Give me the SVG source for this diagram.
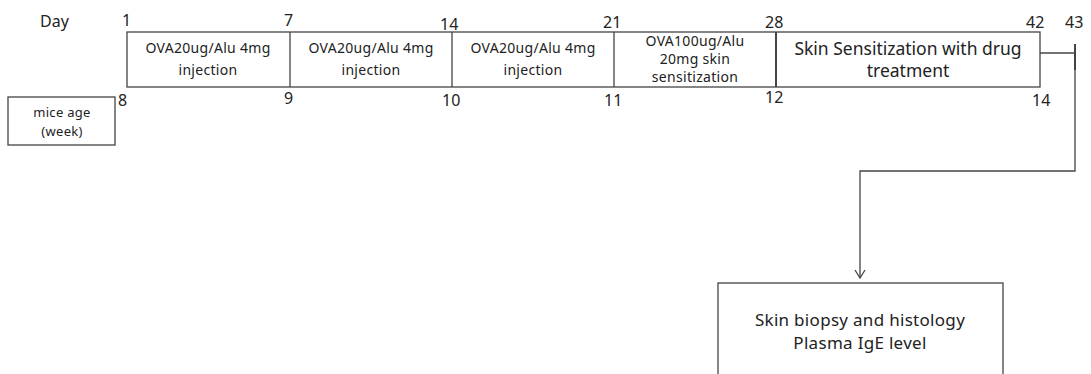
<svg xmlns="http://www.w3.org/2000/svg" width="1091" height="374" viewBox="0 0 1091 374">
<style>
text{font-family:"Noto Sans","Open Sans","DejaVu Sans",sans-serif;fill:#222}
.n{font-size:16px}
.s{font-size:14px;text-anchor:middle;letter-spacing:0.3px}
.m{font-size:17.5px;text-anchor:middle}
.b{font-size:17px;text-anchor:middle;letter-spacing:0.3px}
.box{fill:#fff;stroke:#444;stroke-width:1.3}
.ln{fill:none;stroke:#444;stroke-width:1.3}
</style>
<defs>
<marker id="arr" markerWidth="12" markerHeight="12" refX="10" refY="6" orient="auto" markerUnits="userSpaceOnUse" viewBox="0 0 12 12">
<path d="M2,1 L10,6 L2,11" fill="none" stroke="#444" stroke-width="1.3"/>
</marker>
</defs>
<text class="n" x="40" y="27">Day</text>
<g id="labels-top">
<text class="n" x="122" y="26">1</text>
<text class="n" x="284" y="26">7</text>
<text class="n" x="440" y="30">14</text>
<text class="n" x="603" y="28">21</text>
<text class="n" x="765" y="28">28</text>
<text class="n" x="1026" y="28">42</text>
<text class="n" x="1065" y="28">43</text>
</g>
<g id="labels-bottom">
<text class="n" x="118" y="106">8</text>
<text class="n" x="284" y="104">9</text>
<text class="n" x="442" y="106">10</text>
<text class="n" x="604" y="106">11</text>
<text class="n" x="765" y="103">12</text>
<text class="n" x="1032" y="106">14</text>
</g>
<g id="timeline">
<rect class="box" x="127" y="32" width="913" height="55"/>
<line class="ln" x1="290" y1="32" x2="290" y2="87"/>
<line class="ln" x1="452" y1="32" x2="452" y2="87"/>
<line class="ln" x1="614" y1="32" x2="614" y2="87"/>
<line class="ln" x1="776" y1="32" x2="776" y2="87" style="stroke-width:2"/>
</g>
<g id="step1">
<text class="s" x="208" y="53">OVA20ug/Alu 4mg</text>
<text class="s" x="208" y="75">injection</text>
</g>
<g id="step2">
<text class="s" x="371" y="53">OVA20ug/Alu 4mg</text>
<text class="s" x="371" y="75">injection</text>
</g>
<g id="step3">
<text class="s" x="533" y="53">OVA20ug/Alu 4mg</text>
<text class="s" x="533" y="75">injection</text>
</g>
<g id="step4">
<text class="s" x="695" y="46">OVA100ug/Alu</text>
<text class="s" x="695" y="64">20mg skin</text>
<text class="s" x="695" y="82">sensitization</text>
</g>
<g id="step5">
<text class="m" x="908" y="55">Skin Sensitization with drug</text>
<text class="m" x="908" y="77">treatment</text>
</g>
<g id="mice-age">
<rect class="box" x="8" y="97" width="107" height="48"/>
<text class="s" x="62" y="117" style="font-size:13px">mice age</text>
<text class="s" x="62" y="136" style="font-size:13px">(week)</text>
</g>
<g id="connectors">
<line class="ln" x1="1040" y1="53" x2="1075" y2="53"/>
<line class="ln" x1="1075" y1="44" x2="1075" y2="70" style="stroke-width:2"/>
<polyline class="ln" points="1075,70 1075,171 860,171 860,278" marker-end="url(#arr)"/>
</g>
<g id="result">
<rect class="box" x="718" y="283" width="285" height="100"/>
<text class="b" x="860" y="326">Skin biopsy and histology</text>
<text class="b" x="860" y="349">Plasma IgE level</text>
</g>
</svg>
